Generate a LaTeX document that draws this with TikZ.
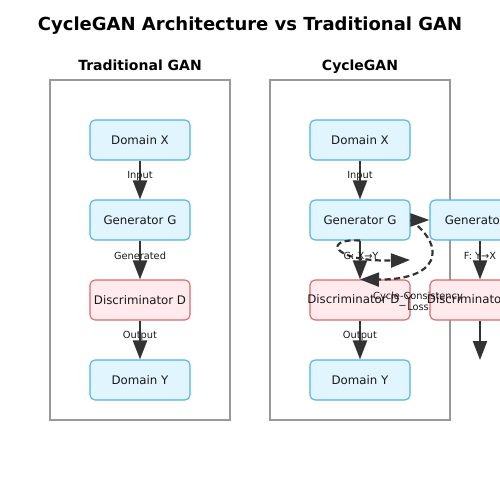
\documentclass[tikz,border=0pt]{standalone}
\usepackage{fontspec}
\setmainfont{DejaVu Sans}
\usetikzlibrary{arrows.meta}
\definecolor{bluefill}{HTML}{E1F5FE}
\definecolor{bluedraw}{HTML}{4FB3E8}
\definecolor{pinkfill}{HTML}{FFEBEE}
\definecolor{pinkdraw}{HTML}{E06666}
\definecolor{arrowc}{HTML}{333333}
\definecolor{panelc}{HTML}{999999}
\begin{document}
\begin{tikzpicture}[x=1pt,y=-1pt,
  bluebox/.style={draw=bluedraw, fill=bluefill, line width=1.1pt, rounded corners=5pt,
    minimum width=100pt, minimum height=40pt, inner sep=0pt, text=black!90,
    font=\fontsize{11.8}{14}\selectfont},
  pinkbox/.style={bluebox, draw=pinkdraw, fill=pinkfill},
  flow/.style={draw=arrowc, line width=2.2pt, -{Triangle[length=19pt,width=14pt]}},
  dflow/.style={flow, dash pattern=on 6pt off 3.5pt},
  lbl/.style={font=\fontsize{9.8}{11}\selectfont, text=black!90, inner sep=0pt, align=center},
  panel/.style={draw=panelc, line width=1.3pt},
  ttl/.style={font=\bfseries\fontsize{18}{21}\selectfont, anchor=base},
  sub/.style={font=\bfseries\fontsize{14}{17}\selectfont, anchor=base}]
\useasboundingbox (0,0) rectangle (500,500);
\clip (0,0) rectangle (500,500);
\fill[white] (0,0) rectangle (500,500);

\node[ttl] (title) at (250,30.5) {CycleGAN Architecture vs Traditional GAN};
\node[sub] (stl) at (140,70.5) {Traditional GAN};
\node[sub] (str) at (360,70.5) {CycleGAN};

\draw[panel] (50,80) rectangle (230,420);
\draw[panel] (270,80) rectangle (450,420);

% Traditional GAN
\node[bluebox] (lx) at (140,140) {Domain X};
\node[bluebox] (lg) at (140,220) {Generator G};
\node[pinkbox] (ld) at (140,300) {\makebox[0pt]{Discriminator D}};
\node[bluebox] (ly) at (140,380) {Domain Y};
\draw[flow] (lx) -- (lg);
\draw[flow] (lg) -- (ld);
\draw[flow] (ld) -- (ly);
\node[lbl] (li) at (140,176) {Input};
\node[lbl] (lgen) at (140,256) {Generated};
\node[lbl] (lo) at (140,336) {Output};

% CycleGAN
\node[bluebox] (rx) at (360,140) {Domain X};
\node[bluebox] (rg) at (360,220) {Generator G};
\node[pinkbox] (rd) at (360,300) {\makebox[0pt]{Discriminator D\_Y}};
\node[bluebox] (ry) at (360,380) {Domain Y};
\node[bluebox] (rf) at (480,220) {Generator F};
\node[pinkbox] (rdx) at (480,300) {\makebox[0pt]{Discriminator D\_X}};
\coordinate (rend) at (480,360);
\coordinate (gxy) at (410,260);

\draw[flow] (rx) -- (rg);
\draw[flow] (rg) -- (rd);
\draw[flow] (rd) -- (ry);
\draw[flow] (rf) -- (rdx);
\draw[flow] (rdx) -- (rend);
\draw[flow, -{Triangle[length=19pt,width=13pt]}] (rg.east) -- (rf.west);
\draw[dflow] (rg.south) .. controls (322,238) and (332,262) .. (gxy);
\draw[dflow] (rg.east) .. controls (448,248) and (438,280) .. (rd.north);

\node[lbl] (ri) at (360,176) {Input};
\node[lbl] (rgl) at (361,256) {G: X→Y};
\node[lbl] (rfl) at (480,256) {F: Y→X};
\node[lbl] (ro) at (360,336) {Output};
\node[lbl, font=\fontsize{9.8}{10.5}\selectfont] (cyc) at (418,301.5) {Cycle-Consistency\\Loss};
\end{tikzpicture}
\end{document}
